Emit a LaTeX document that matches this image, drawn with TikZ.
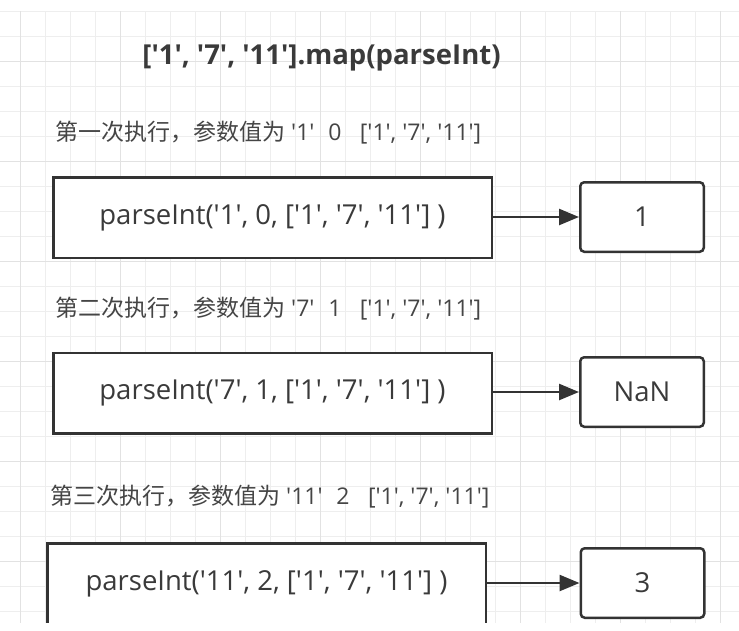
\documentclass[tikz,border=0pt]{standalone}
\usepackage{fontspec}
\newfontfamily\lat{Open Sans}
\newfontfamily\cjk{Noto Sans CJK SC}
\usetikzlibrary{arrows.meta}
\definecolor{ink}{HTML}{333333}
\definecolor{txt}{HTML}{3A3A3A}
\definecolor{lbl}{HTML}{454545}
\definecolor{gridminor}{HTML}{EEEEEE}
\definecolor{gridmajor}{HTML}{E2E2E2}
\tikzset{
  callbox/.style={draw=ink, line width=2.5pt, fill=white, minimum width=438.5pt, minimum height=80.5pt, inner sep=0pt, font=\lat\fontsize{27.5}{32}\selectfont, text=txt},
  resbox/.style={draw=ink, line width=2.5pt, fill=white, rounded corners=4pt, minimum width=123.5pt, minimum height=69.5pt, inner sep=0pt, font=\lat\fontsize{27.5}{32}\selectfont, text=txt},
  steplabel/.style={anchor=west, inner sep=0pt, font=\lat\fontsize{23}{27}\selectfont, text=lbl},
  titlelabel/.style={inner sep=0pt, font=\lat\bfseries\fontsize{27.5}{32}\selectfont, text=txt},
  flow/.style={draw=ink, line width=2.5pt, -{Triangle[length=20pt,width=16pt]}}
}
\begin{document}
\begin{tikzpicture}[x=1pt,y=-1pt]
\useasboundingbox (0,0) rectangle (739,630);
\fill[white] (0,0) rectangle (739,630);
\begin{scope}
\clip (0,11) rectangle (739,622);
% grid
\foreach \x in {-5,20,...,745} \draw[gridminor, line width=1pt] (\x,0) -- (\x,630);
\foreach \y in {11,36,...,636} \draw[gridminor, line width=1pt] (0,\y) -- (739,\y);
\foreach \x in {20,120,...,720} \draw[gridmajor, line width=1pt] (\x,0) -- (\x,630);
\foreach \y in {61,161,...,661} \draw[gridmajor, line width=1pt] (0,\y) -- (739,\y);

\node[titlelabel] (title) at (321.5,58) {['1', '7', '11'].map(parseInt)};

\node[steplabel] (l1) at (55,133) {{\cjk 第一次执行，参数值为}\ '1'\hspace{0.6em}0\hspace{0.8em}['1', '7', '11']};
\node[callbox] (c1) at (272.5,217.5) {parseInt('1', 0, ['1', '7', '11'] )};
\node[resbox] (r1) at (642,217) {1};
\draw[flow] (c1.east |- r1.west) -- (r1.west);

\node[steplabel] (l2) at (55,309) {{\cjk 第二次执行，参数值为}\ '7'\hspace{0.6em}1\hspace{0.8em}['1', '7', '11']};
\node[callbox] (c2) at (272.5,393) {parseInt('7', 1, ['1', '7', '11'] )};
\node[resbox] (r2) at (642,392) {NaN};
\draw[flow] (c2.east |- r2.west) -- (r2.west);

\node[steplabel] (l3) at (50,497) {{\cjk 第三次执行，参数值为}\ '11'\hspace{0.6em}2\hspace{0.8em}['1', '7', '11']};
\node[callbox] (c3) at (266.5,583.5) {parseInt('11', 2, ['1', '7', '11'] )};
\node[resbox] (r3) at (642.5,583) {3};
\draw[flow] (c3.east |- r3.west) -- (r3.west);
\end{scope}
\end{tikzpicture}
\end{document}
